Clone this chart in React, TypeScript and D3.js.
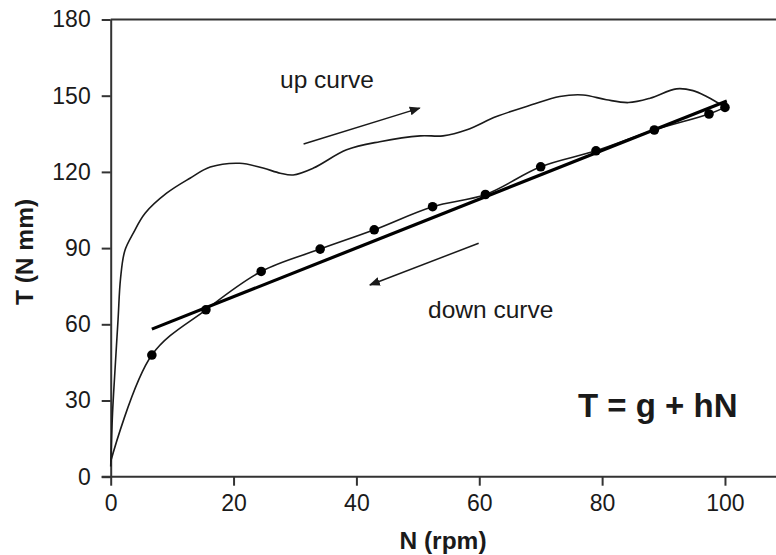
import React, { useRef, useEffect } from "react";
import * as d3 from "d3";

// up curve (N rpm, T N mm)
const upN = [0, 0.3, 0.7, 1.2, 1.6, 2.3, 3.7, 5.6, 9.1, 12.9, 16.2, 21, 24.8, 27.6, 29.7, 33, 38.4, 43.8, 50.4, 54.1, 58, 62.8, 68.5, 73.1, 76.9, 80.7, 84.3, 87.8, 92.1, 94.8, 97, 98.9, 100];
const upT = [4, 25, 42, 62, 78, 89, 96, 103.7, 111.6, 117.5, 121.9, 123.4, 121.5, 119.5, 118.8, 121.5, 128.7, 131.9, 134.2, 134.2, 136.6, 141.8, 146.4, 149.7, 150.3, 148.4, 147.3, 149, 152.7, 152, 149.7, 147.1, 145.6];

// down curve, first point is the start at origin (no marker)
const downN = [0, 6.7, 15.5, 24.5, 34.1, 42.9, 52.4, 61.0, 70, 79, 88.5, 97.4, 100];
const downT = [6, 47.9, 65.7, 80.8, 89.6, 97.2, 106.3, 111.1, 122, 128.3, 136.5, 142.8, 145.4];

// linear fit T = g + hN, end points
const fitN = [6.7, 100.3];
const fitT = [58.1, 147.9];

const xTicks = [0, 20, 40, 60, 80, 100];
const yTicks = [0, 30, 60, 90, 120, 150, 180];

// annotation arrows [N0, T0, N1, T1]
const upArrow = [31.4, 131, 50.3, 145.1];
const downArrow = [59.9, 91.9, 42.2, 75.5];

const font = "'Liberation Sans', Arial, sans-serif";
const ink = "#1a1a1a";

const App = () => {
  const svgRef = useRef(null);

  useEffect(() => {
    const width = 776;
    const height = 555;
    const svg = d3.select(svgRef.current);
    svg.selectAll("*").remove();

    const x = d3.scaleLinear().domain([0, 110]).range([110.7, 786.4]);
    const y = d3.scaleLinear().domain([0, 180]).range([476.7, 19.5]);

    const defs = svg.append("defs");
    defs
      .append("marker")
      .attr("id", "arrow")
      .attr("viewBox", "0 0 10 10")
      .attr("refX", 9)
      .attr("refY", 5)
      .attr("markerWidth", 11)
      .attr("markerHeight", 11)
      .attr("markerUnits", "userSpaceOnUse")
      .attr("orient", "auto")
      .append("path")
      .attr("d", "M0,1 L10,5 L0,9 z")
      .attr("fill", ink);

    // top frame line
    svg
      .append("line")
      .attr("x1", x(0))
      .attr("x2", x(110))
      .attr("y1", y(180))
      .attr("y2", y(180))
      .attr("stroke", "#333")
      .attr("stroke-width", 2);

    const yAxis = svg
      .append("g")
      .attr("transform", `translate(${x(0)},0)`)
      .call(d3.axisLeft(y).tickValues(yTicks).tickSize(9).tickPadding(11).tickSizeOuter(0));
    const xAxis = svg
      .append("g")
      .attr("transform", `translate(0,${y(0)})`)
      .call(d3.axisBottom(x).tickValues(xTicks).tickSize(9).tickPadding(9).tickSizeOuter(0));

    [xAxis, yAxis].forEach((g) => {
      g.select(".domain").attr("stroke", "#333").attr("stroke-width", 2);
      g.selectAll(".tick line").attr("stroke", "#333").attr("stroke-width", 2);
      g.selectAll(".tick text")
        .attr("fill", ink)
        .style("font-family", font)
        .style("font-size", "23px");
    });
    // extend bottom axis to meet the 0 tick on the left
    xAxis.select(".domain").attr("d", `M${x(0) - 9},0H${x(110)}`);

    const line = d3
      .line()
      .x((d) => x(d[0]))
      .y((d) => y(d[1]))
      .curve(d3.curveCatmullRom.alpha(0.5));

    svg
      .append("path")
      .datum(upN.map((n, i) => [n, upT[i]]))
      .attr("d", line)
      .attr("fill", "none")
      .attr("stroke", ink)
      .attr("stroke-width", 1.6);

    const down = downN.map((n, i) => [n, downT[i]]);
    svg
      .append("path")
      .datum(down)
      .attr("d", line)
      .attr("fill", "none")
      .attr("stroke", ink)
      .attr("stroke-width", 1.6);

    svg
      .append("line")
      .attr("x1", x(fitN[0]))
      .attr("y1", y(fitT[0]))
      .attr("x2", x(fitN[1]))
      .attr("y2", y(fitT[1]))
      .attr("stroke", "#000")
      .attr("stroke-width", 3.2);

    svg
      .selectAll(".dot")
      .data(down.slice(1))
      .enter()
      .append("circle")
      .attr("cx", (d) => x(d[0]))
      .attr("cy", (d) => y(d[1]))
      .attr("r", 4.8)
      .attr("fill", "#000");

    [upArrow, downArrow].forEach((a) => {
      svg
        .append("line")
        .attr("x1", x(a[0]))
        .attr("y1", y(a[1]))
        .attr("x2", x(a[2]))
        .attr("y2", y(a[3]))
        .attr("stroke", ink)
        .attr("stroke-width", 1.5)
        .attr("marker-end", "url(#arrow)");
    });

    const label = (tx, ty, text, size, weight, rotate = false) => {
      const t = svg
        .append("text")
        .attr("x", tx)
        .attr("y", ty)
        .attr("fill", ink)
        .style("font-family", font)
        .style("font-size", `${size}px`)
        .style("font-weight", weight)
        .text(text);
      if (rotate) t.attr("transform", `rotate(-90,${tx},${ty})`).attr("text-anchor", "middle");
      return t;
    };

    label(280, 88, "up curve", 24.5, "normal");
    label(428, 318, "down curve", 24.5, "normal");
    label(578, 417, "T = g + hN", 33, "bold");
    label(443, 549, "N (rpm)", 24.5, "bold").attr("text-anchor", "middle");
    label(33, 252, "T (N mm)", 24.5, "bold", true);

    svg.attr("width", width).attr("height", height);
  }, []);

  return (
    <svg
      ref={svgRef}
      width={776}
      height={555}
      style={{ position: "absolute", left: 0, top: 0, background: "#fff" }}
    ></svg>
  );
};

export default App;
